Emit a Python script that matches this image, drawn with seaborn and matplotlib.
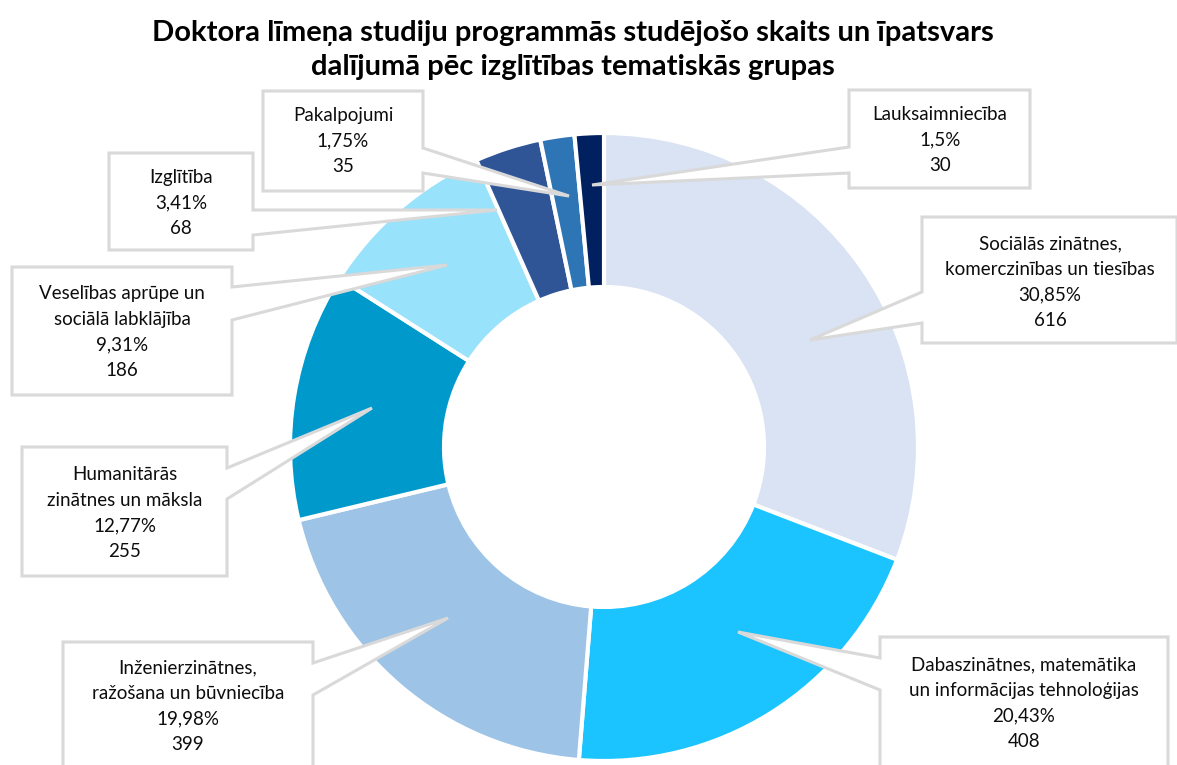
import matplotlib
matplotlib.use('Agg')
import matplotlib.pyplot as plt
import seaborn as sns
from matplotlib.patches import Polygon

# DADOS DO GRÁFICO
nozares = ['Sociālās zinātnes,\nkomerczinības un tiesības',
           'Dabaszinātnes, matemātika\nun informācijas tehnoloģijas',
           'Inženierzinātnes,\nražošana un būvniecība',
           'Humanitārās\nzinātnes un māksla',
           'Veselības aprūpe un\nsociālā labklājība',
           'Izglītība',
           'Pakalpojumi',
           'Lauksaimniecība']
studejosie = [616, 408, 399, 255, 186, 68, 35, 30]
ipatsvars = ['30,85%', '20,43%', '19,98%', '12,77%', '9,31%', '3,41%', '1,75%', '1,5%']
krasas = ['#DAE3F3', '#1BC4FE', '#9DC3E6', '#0099CC', '#99E2FB', '#2F5597', '#2E75B6', '#002060']

# callout boxes in pixel coords (left, top, right, bottom), side of pointer, pointer y's, tip, text centre
kastes = [
    ((922, 217, 1177, 343), 'L', (292, 323), (810, 340), (1050, 282)),
    ((880, 637, 1168, 800), 'L', (658, 690), (738, 632), (1024, 703)),
    ((63, 642, 313, 800), 'R', (663, 695), (448, 618), (188, 706)),
    ((22, 447, 227, 576), 'R', (468, 499), (372, 408), (125, 513)),
    ((12, 267, 232, 395), 'R', (287, 320), (447, 265), (122, 332)),
    ((109, 153, 253, 250), 'R', (210, 235), (497, 210), (181, 203)),
    ((263, 91, 423, 191), 'R', (148, 173), (569, 196), (343, 141)),
    ((849, 90, 1030, 188), 'L', (147, 173), (592, 185), (940, 140)),
]

sns.set_theme(style='white')
plt.rcParams['font.family'] = ['Lato', 'DejaVu Sans']

W, H = 1177, 765
fig = plt.figure(figsize=(W / 100, H / 100), dpi=100)
ax = fig.add_axes([0, 0, 1, 1])

def y(py):
    return H - py

ax.pie(studejosie, colors=krasas, startangle=90, counterclock=False,
       center=(604, y(447)), radius=314, frame=True,
       wedgeprops={'width': 154, 'edgecolor': 'white', 'linewidth': 3})
ax.set_xlim(0, W)
ax.set_ylim(0, H)
ax.set_aspect('equal')
ax.axis('off')

for i, (kaste, puse, py, tip, tc) in enumerate(kastes):
    L, T, R, B = kaste
    if puse == 'R':
        pts = [(L, T), (R, T), (R, py[0]), tip, (R, py[1]), (R, B), (L, B)]
    else:
        pts = [(L, T), (R, T), (R, B), (L, B), (L, py[1]), tip, (L, py[0])]
    pts = [(px, y(pyy)) for px, pyy in pts]
    ax.add_patch(Polygon(pts, closed=True, facecolor='white', edgecolor='#D9D9D9',
                         linewidth=2.2, zorder=5))
    txt = f'{nozares[i]}\n{ipatsvars[i]}\n{studejosie[i]}'
    ax.text(tc[0], y(tc[1]), txt, ha='center', va='center', fontsize=13.5,
            color='#0d0d0d', linespacing=1.6, zorder=6)

fig.text(0.487, y(50) / H, 'Doktora līmeņa studiju programmās studējošo skaits un īpatsvars\ndalījumā pēc izglītības tematiskās grupas',
         ha='center', va='center', fontsize=21, fontweight='bold', linespacing=1.4, color='black')

plt.savefig('out.png', dpi=100)
